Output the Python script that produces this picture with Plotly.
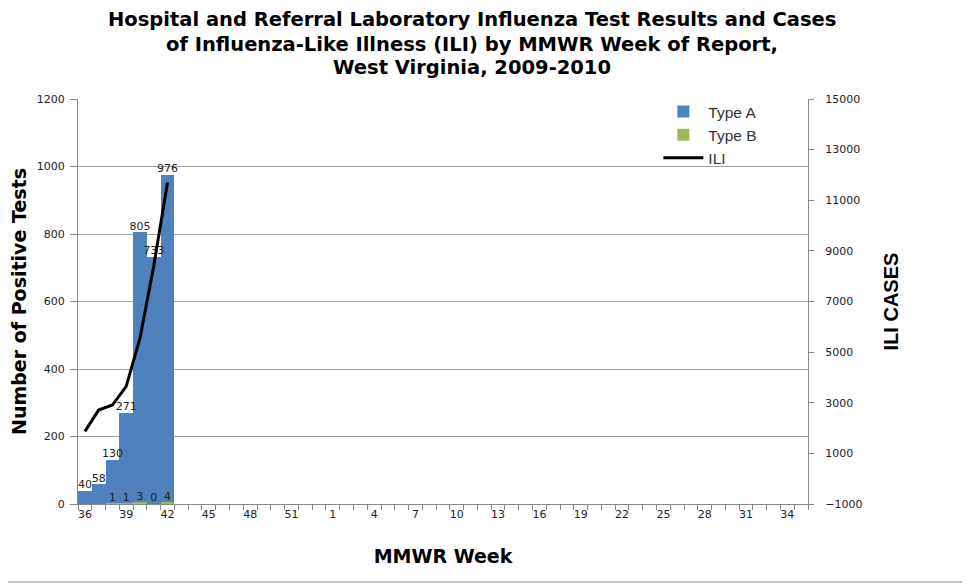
"""Influenza test results and ILI cases by MMWR week, West Virginia 2009-2010."""
import plotly.graph_objects as go

# MMWR weeks of the 2009-2010 season (2009 had 53 weeks)
weeks = [str(w) for w in list(range(36, 54)) + list(range(1, 36))]
label_weeks = ['36', '39', '42', '45', '48', '51', '1', '4', '7', '10', '13',
               '16', '19', '22', '25', '28', '31', '34']

report_weeks = ['36', '37', '38', '39', '40', '41', '42']
type_a = [40, 58, 130, 271, 805, 733, 976]
type_b = [0, 0, 1, 1, 3, 0, 4]
type_b_labels = ['', '', '1', '1', '3', '0', '4']
ili_cases = [1870, 2710, 2910, 3650, 5550, 8400, 11700]

title_lines = ['Hospital and Referral Laboratory Influenza Test Results and Cases',
               'of Influenza-Like Illness (ILI) by MMWR Week of Report,',
               'West Virginia, 2009-2010']

wide_font = 'DejaVu Sans, sans-serif'
arial = 'Liberation Sans, Arial, sans-serif'
tick_font = dict(family='DejaVu Sans, sans-serif', size=11, color='#222')
label_font = dict(family='DejaVu Sans, sans-serif', size=11, color='#222')

# the page adds an 8px body margin, so the figure is shifted by that much
off = 8
W, H = 970 - off, 588 - off
ml, mr, mt, mb = 78 - off, 162, 99 - off, 84
pw, ph = W - ml - mr, H - mt - mb

fig = go.Figure()
fig.add_trace(go.Bar(x=report_weeks, y=type_a, name='Type A', marker_color='#4F81BD',
                     marker_line_width=0))
fig.add_trace(go.Bar(x=report_weeks, y=type_b, name='Type B', marker_color='#9BBB59',
                     marker_line_width=0))
# data labels drawn on top of all bars
fig.add_trace(go.Scatter(x=report_weeks, y=type_a, mode='text', text=[str(v) for v in type_a],
                         textposition='top center', textfont=label_font,
                         showlegend=False, hoverinfo='skip', cliponaxis=False))
fig.add_trace(go.Scatter(x=report_weeks, y=type_b, mode='text', text=type_b_labels,
                         textposition='top center', textfont=label_font,
                         showlegend=False, hoverinfo='skip', cliponaxis=False))
fig.add_trace(go.Scatter(x=report_weeks, y=ili_cases, name='ILI', yaxis='y2',
                         mode='lines', line=dict(color='black', width=3)))

fig.update_layout(
    width=W, height=H,
    paper_bgcolor='white', plot_bgcolor='white',
    margin=dict(l=ml, r=mr, t=mt, b=mb),
    barmode='overlay', bargap=0,
    xaxis=dict(type='category', categoryorder='array', categoryarray=weeks,
               range=[-0.5, len(weeks) - 0.5], automargin=False,
               tickvals=weeks, ticktext=[w if w in label_weeks else '' for w in weeks],
               tickson='boundaries', ticks='outside', ticklen=5, tickcolor='#888',
               showline=True, linecolor='#888', linewidth=1, showgrid=False,
               tickangle=0, tickfont=tick_font,
               title=dict(text='<b>MMWR Week</b>', standoff=29,
                          font=dict(family=wide_font, size=19, color='black'))),
    yaxis=dict(range=[0, 1200], dtick=200, showgrid=True, gridcolor='#A0A0A0', gridwidth=1,
               showline=True, linecolor='#888', ticks='outside', ticklen=7, tickcolor='#888',
               zeroline=False, tickfont=tick_font, automargin=False, ticklabelstandoff=3,
               title=dict(text='<b>Number of Positive Tests</b>', standoff=14,
                          font=dict(family=wide_font, size=19, color='black'))),
    yaxis2=dict(range=[-1000, 15000], dtick=2000, tick0=-1000, overlaying='y', side='right',
                tickformat='d', showgrid=False, showline=True, linecolor='#888',
                ticks='outside', ticklen=5, tickcolor='#888', zeroline=False, tickfont=tick_font,
                automargin=False, ticklabelstandoff=9,
                title=dict(text='<b>ILI CASES</b>', standoff=22,
                           font=dict(family=arial, size=20, color='black'))),
    legend=dict(x=0.795, y=1.01, xanchor='left', yanchor='top', bgcolor='rgba(0,0,0,0)',
                font=dict(family=arial, size=15.5, color='#333'),
                itemwidth=40, tracegroupgap=0),
    showlegend=True,
)

# three-line chart title, centred over the chart
for line, y_px in zip(title_lines, [19, 44, 68]):
    fig.add_annotation(text='<b>' + line + '</b>', xref='paper', yref='paper',
                       x=(472 - off - ml) / pw, xanchor='center',
                       y=(H - mb - (y_px - off)) / ph, yanchor='middle',
                       showarrow=False, font=dict(family=wide_font, size=19.5, color='black'))

# thin frame (right and bottom edges; the others fall in the page margin)
fig.add_shape(type='line', xref='paper', yref='paper',
              x0=(966 - off - ml) / pw, x1=(966 - off - ml) / pw,
              y0=(H - mb - (582 - off)) / ph, y1=(H - mb) / ph + mt / ph,
              line=dict(color='#888', width=1), layer='below')
fig.add_shape(type='line', xref='paper', yref='paper',
              x0=-ml / pw, x1=(966 - off - ml) / pw,
              y0=(H - mb - (582 - off)) / ph, y1=(H - mb - (582 - off)) / ph,
              line=dict(color='#888', width=1), layer='below')

fig.write_html("out.html")
